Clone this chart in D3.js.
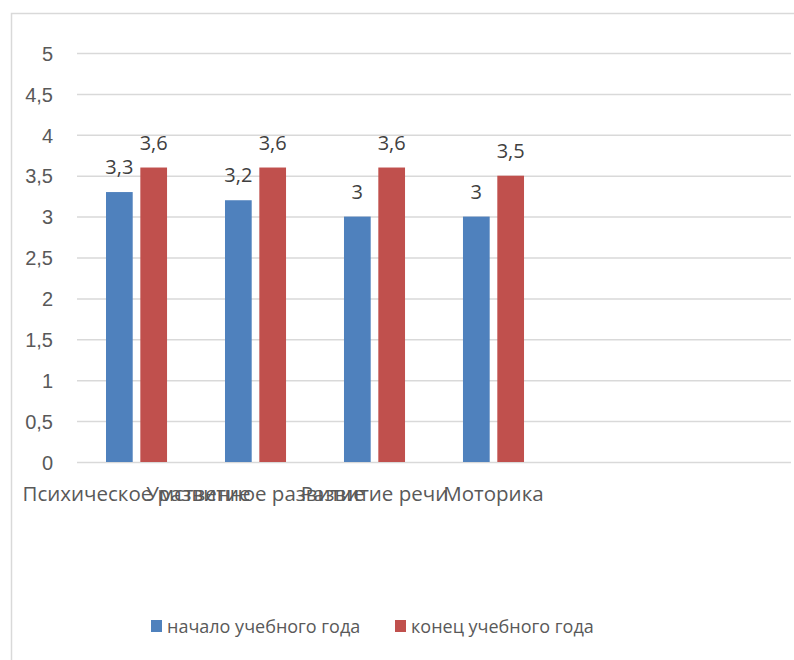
<!DOCTYPE html>
<html>
<head>
<meta charset="utf-8">
<script src="https://cdn.jsdelivr.net/npm/d3@7"></script>
<style>
  body { margin: 0; background: #fff; }
  svg { display: block; font-family: "Open Sans", sans-serif; }
</style>
</head>
<body>
<svg id="chart"></svg>
<script>
const width = 794
const height = 660

// data
const categories = ["Психическое развитие", "Умственное развитие", "Развитие речи", "Моторика"]
const seriesNames = ["начало учебного года", "конец учебного года"]
const startValues = [3.3, 3.2, 3.0, 3.0]
const endValues = [3.6, 3.6, 3.6, 3.5]
const yTicks = [0, 0.5, 1, 1.5, 2, 2.5, 3, 3.5, 4, 4.5, 5]
const colors = ["#4F81BD", "#C0504D"]

const slots = 6 // excel left two empty category slots
const plot = { left: 77, right: 791, top: 53, bottom: 462 }

const fmt = v => String(v).replace(".", ",")

const svg = d3.select("#chart")
            .attr("width", width)
            .attr("height", height);

// chart frame (right / bottom edges fall outside the picture)
svg.append("path")
   .attr("d", `M11.5,${height + 5}V13.5H${width + 5}`)
   .attr("fill", "none")
   .attr("stroke", "#d9d9d9")
   .attr("stroke-width", 1.5)

const x0 = d3.scaleBand()
            .domain(d3.range(slots))
            .range([plot.left, plot.right])
            .paddingInner(0.487)
            .paddingOuter(0.2437)

const x1 = d3.scaleBand()
            .domain([0, 1])
            .range([0, x0.bandwidth()])
            .paddingInner(0.222)

const y = d3.scaleLinear()
            .domain([0, 5])
            .range([plot.bottom, plot.top])

// gridlines + y labels
const yAxis = svg.append("g")
   .attr("transform", `translate(${plot.left},0)`)
   .call(d3.axisLeft(y)
        .tickValues(yTicks)
        .tickSize(-(plot.right - plot.left))
        .tickPadding(24)
        .tickFormat(fmt))

yAxis.select(".domain").remove()
yAxis.selectAll("line")
     .attr("stroke", "#d9d9d9")
     .attr("stroke-width", 1.5)
yAxis.selectAll("text")
     .attr("fill", "#595959")
     .attr("font-size", 20)
     .attr("dy", "0.36em")

const rows = categories.map((c, i) => ({ i: i, values: [startValues[i], endValues[i]] }))

const groups = svg.selectAll("g.cat")
   .data(rows)
   .enter()
   .append("g")
   .attr("class", "cat")
   .attr("transform", d => `translate(${x0(d.i)},0)`)

groups.selectAll("rect")
   .data(d => d.values.map((v, s) => ({ s: s, v: v })))
   .enter()
   .append("rect")
   .attr("x", d => x1(d.s))
   .attr("width", x1.bandwidth())
   .attr("y", d => y(d.v))
   .attr("height", d => y(0) - y(d.v))
   .attr("fill", d => colors[d.s])

groups.selectAll("text")
   .data(d => d.values.map((v, s) => ({ s: s, v: v })))
   .enter()
   .append("text")
   .attr("x", d => x1(d.s) + x1.bandwidth() / 2)
   .attr("y", d => y(d.v) - 18)
   .attr("text-anchor", "middle")
   .attr("font-size", 20)
   .attr("fill", "#404040")
   .text(d => fmt(d.v))

// category labels, not wrapped so they overlap like the original
svg.selectAll("text.cat-label")
   .data(categories)
   .enter()
   .append("text")
   .attr("class", "cat-label")
   .attr("x", (d, i) => x0(i) + x0.bandwidth() / 2)
   .attr("y", 501)
   .attr("text-anchor", "middle")
   .attr("font-size", 20.5)
   .attr("fill", "#595959")
   .text(d => d)

// legend
const legendX = [151, 395]
const legend = svg.selectAll("g.legend")
   .data(seriesNames)
   .enter()
   .append("g")
   .attr("class", "legend")
   .attr("transform", (d, i) => `translate(${legendX[i]},620)`)

legend.append("rect")
   .attr("width", 11)
   .attr("height", 12)
   .attr("fill", (d, i) => colors[i])

legend.append("text")
   .attr("x", 16)
   .attr("y", 13)
   .attr("font-size", 18)
   .attr("fill", "#595959")
   .text(d => d)
</script>
</body>
</html>
